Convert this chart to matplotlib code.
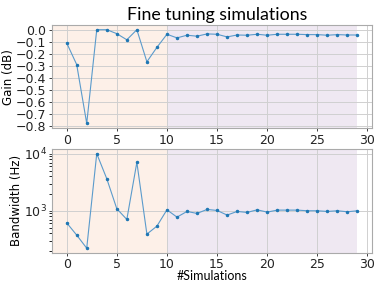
import numpy as np
import matplotlib
matplotlib.use("Agg")
import matplotlib.pyplot as plt

# values
sims = list(range(30))
gain = [-0.11, -0.29, -0.78, 0.0, 0.0, -0.033, -0.084, 0.0, -0.267, -0.147,
        -0.038, -0.068, -0.046, -0.054, -0.035, -0.038, -0.06, -0.044, -0.046, -0.038,
        -0.046, -0.038, -0.038, -0.038, -0.041, -0.041, -0.046, -0.041, -0.044, -0.044]
bandwidth = [615, 375, 221, 10000, 3640, 1085, 705, 7050, 390, 538,
             1040, 774, 973, 898, 1055, 1013, 840, 973, 935, 1040,
             947, 1027, 1027, 1027, 1000, 1000, 973, 1000, 960, 1000]
phase_split = 10

plt.rcParams['font.size'] = 9
fig = plt.figure(figsize=(3.75, 2.81), dpi=100)
ax1 = fig.add_axes([0.139, 0.544, 0.853, 0.367])
ax2 = fig.add_axes([0.139, 0.100, 0.853, 0.370])

for ax, y in [(ax1, gain), (ax2, bandwidth)]:
    ax.axvspan(-1.45, phase_split, color='#fdf0e8', zorder=0, lw=0)
    ax.axvspan(phase_split, sims[-1], color='#efe8f2', zorder=0, lw=0)
    ax.plot(sims, y, '-', color='#5b9bcc', lw=0.8, zorder=3)
    ax.plot(sims, y, '.', color='#1f77b4', ms=3, zorder=4)
    ax.grid(True, color='#d0d0d0', lw=0.7, zorder=1)
    ax.set_axisbelow(True)
    for s in ax.spines.values():
        s.set_color('#aaaaaa')
        s.set_linewidth(0.8)
    ax.tick_params(colors='#222222', length=2.5, width=0.6, pad=1.5, labelsize=9)
    ax.set_xlim(-1.45, 30.45)
    ax.set_xticks(range(0, 31, 5))

ax1.set_ylim(-0.819, 0.039)
ax1.set_yticks(np.arange(-0.8, 0.01, 0.1))
ax1.set_ylabel('Gain (dB)', fontsize=8.5, labelpad=0.5)

ax2.set_yscale('log')
ax2.set_ylim(10**2.262, 10**4.083)
ax2.set_ylabel('Bandwidth (Hz)', fontsize=8.5, labelpad=0.5)
ax2.set_xlabel('#Simulations', family=['Lato', 'DejaVu Sans'], fontsize=9, labelpad=-1)

fig.suptitle('Fine tuning simulations', family=['Lato', 'DejaVu Sans'], fontsize=12.8, x=0.578, y=0.975)

fig.savefig('out.png', dpi=100)
